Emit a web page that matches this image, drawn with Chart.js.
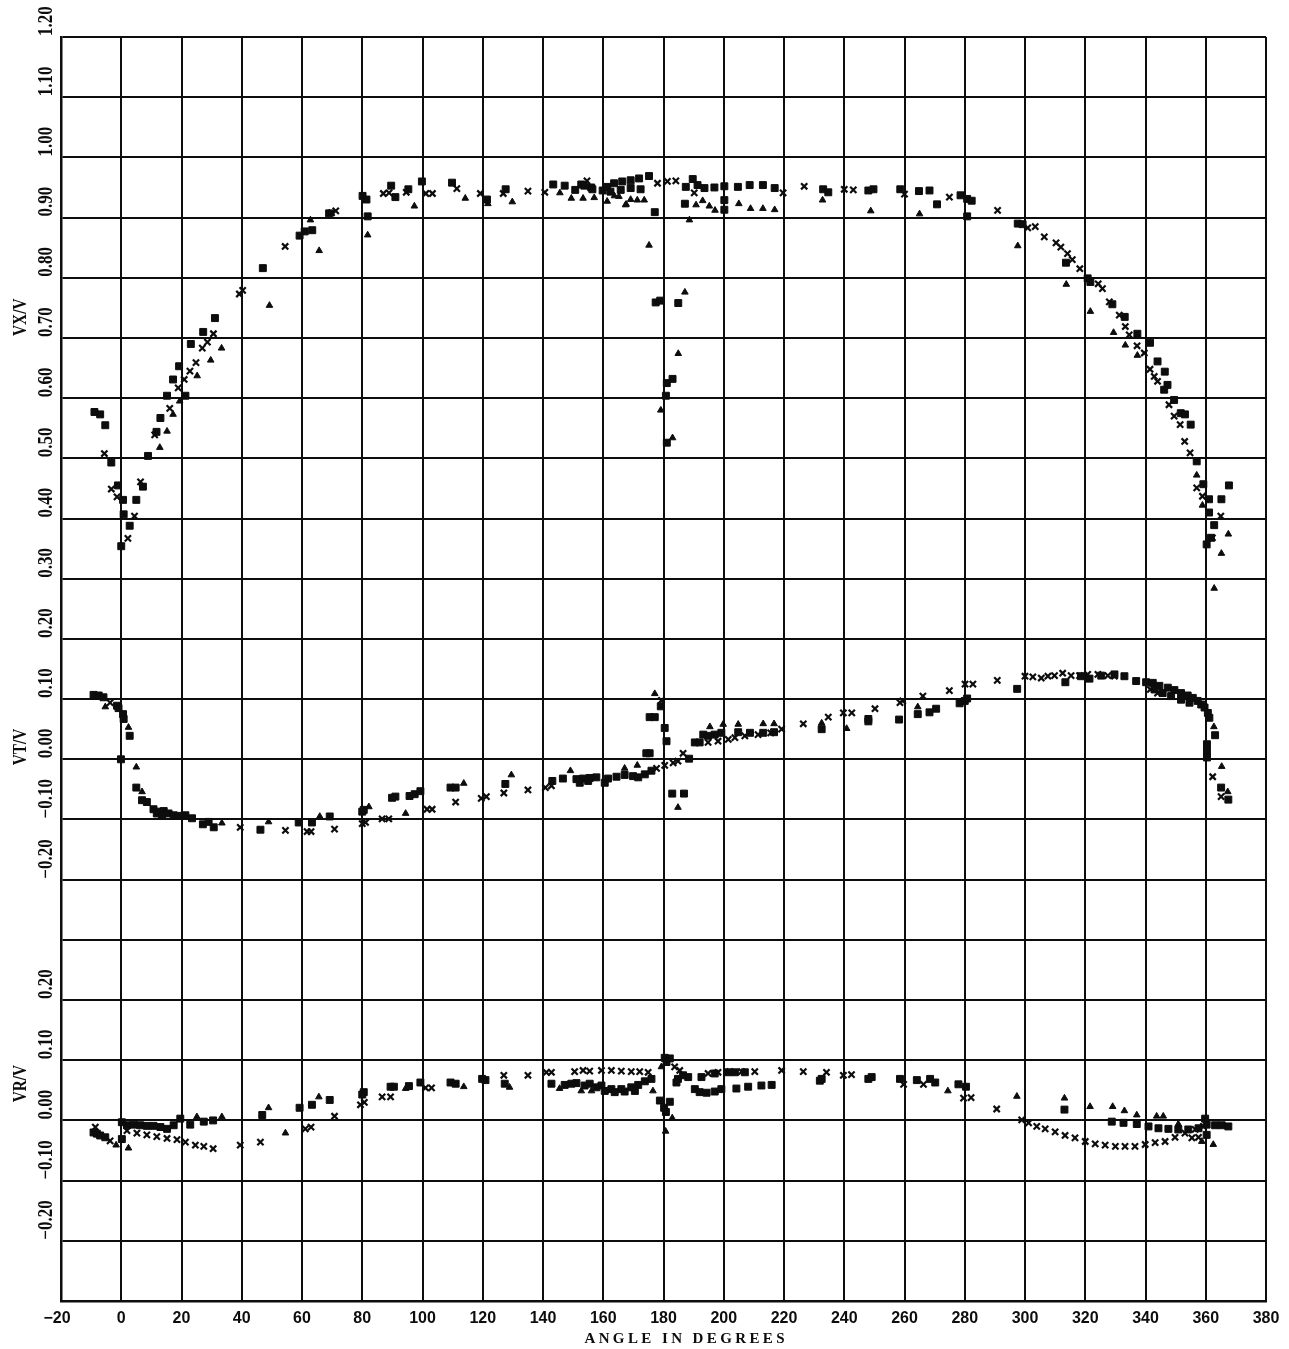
<!DOCTYPE html>
<html><head><meta charset="utf-8">
<script src="https://cdn.jsdelivr.net/npm/chart.js@4"></script>
<style>html,body{margin:0;padding:0;background:#fff;}canvas{display:block}</style>
</head><body>
<canvas id="c" width="1289" height="1349" style="width:1289px;height:1349px"></canvas>
<script>
// ---------- DATA ----------
const xTickValues = [-20,0,20,40,60,80,100,120,140,160,180,200,220,240,260,280,300,320,340,360,380];
const xTickLabels = ['\u221220','0','20','40','60','80','100','120','140','160','180','200','220','240','260','280','300','320','340','360','380'];
const xTitle = 'ANGLE IN DEGREES';

const vxTickValues = [1.2,1.1,1.0,0.9,0.8,0.7,0.6,0.5,0.4,0.3,0.2,0.1];
const vxTickLabels = ['1.20','1.10','1.00','0.90','0.80','0.70','0.60','0.50','0.40','0.30','0.20','0.10'];
const vtTickValues = [0.0,-0.1,-0.2];
const vtTickLabels = ['0.00','\u22120.10','\u22120.20'];
const vrTickValues = [0.2,0.1,0.0,-0.1,-0.2];
const vrTickLabels = ['0.20','0.10','0.00','\u22120.10','\u22120.20'];
const panelTitles = ['VX/V','VT/V','VR/V'];
const vrOffset = -0.6;   // VR panel drawn lower on the shared sheet

const vxSquares = [[-8.9,0.577],[-7,0.573],[-5.3,0.555],[-3.3,0.493],[-1.1,0.455],[0.6,0.431],[0.8,0.407],[2.8,0.388],[0,0.354],[5,0.431],[7.2,0.453],[8.9,0.504],[11.7,0.544],[13,0.567],[15.2,0.604],[21.3,0.604],[17.2,0.631],[19.2,0.653],[23.1,0.690],[27.2,0.710],[31.1,0.733],[47,0.816],[59.2,0.870],[60.9,0.877],[63.4,0.879],[69,0.907],[80.1,0.936],[81.4,0.930],[81.8,0.902],[89.6,0.953],[91,0.934],[95.3,0.947],[99.8,0.960],[109.8,0.958],[121.4,0.930],[127.6,0.947],[143.4,0.955],[147.2,0.953],[150.7,0.946],[152.7,0.955],[156,0.950],[153.7,0.953],[156.4,0.947],[159.8,0.945],[161.3,0.951],[163.6,0.957],[166.3,0.960],[169.1,0.962],[171.9,0.965],[175.2,0.969],[162.4,0.943],[165.8,0.946],[169.1,0.949],[172.4,0.947],[177.1,0.909],[177.4,0.759],[178.9,0.762],[184.9,0.758],[183,0.632],[181.1,0.625],[180.8,0.604],[181.1,0.526],[187.4,0.951],[189.7,0.964],[191.3,0.954],[187.1,0.923],[193.6,0.949],[196.9,0.950],[200.2,0.952],[204.7,0.951],[208.6,0.954],[213,0.954],[216.9,0.949],[200.2,0.929],[200.2,0.913],[233,0.947],[234.7,0.942],[248,0.945],[249.7,0.947],[258.6,0.947],[264.8,0.944],[268.3,0.945],[270.8,0.922],[278.6,0.937],[280.8,0.931],[282.3,0.928],[280.8,0.902],[297.6,0.890],[299.2,0.889],[313.6,0.825],[320.8,0.799],[321.7,0.793],[329,0.756],[333.1,0.735],[337.3,0.707],[341.5,0.692],[344,0.661],[346.4,0.644],[347.3,0.622],[346.2,0.614],[349.5,0.597],[351.7,0.575],[353.1,0.573],[355,0.556],[357,0.495],[359.2,0.457],[367.7,0.455],[361.1,0.432],[365.2,0.432],[361.1,0.410],[362.8,0.389],[361.7,0.368],[360.3,0.357]];
const vxCrosses = [[-5.6,0.508],[-3.3,0.449],[-1.4,0.436],[2.2,0.367],[4.4,0.404],[6.4,0.461],[11.1,0.539],[16.1,0.583],[18.9,0.617],[20.9,0.631],[22.8,0.645],[24.8,0.659],[26.9,0.683],[28.6,0.693],[30.6,0.707],[39.2,0.773],[40.3,0.779],[54.4,0.852],[69.8,0.908],[71.2,0.911],[87,0.940],[88.9,0.941],[94.6,0.942],[101.1,0.940],[103.3,0.940],[111.4,0.948],[119.2,0.940],[126.8,0.940],[135,0.944],[140.6,0.942],[154.6,0.961],[178,0.957],[181.3,0.960],[184.1,0.961],[190.2,0.941],[219.7,0.941],[226.7,0.952],[240,0.947],[243,0.946],[260,0.939],[274.9,0.934],[290.9,0.912],[300.9,0.883],[303.4,0.885],[306.4,0.868],[310.3,0.858],[311.9,0.851],[314.1,0.840],[315.7,0.830],[318.2,0.815],[324.3,0.790],[325.7,0.782],[328,0.760],[331.3,0.738],[333.3,0.719],[334.6,0.705],[337.2,0.687],[339.6,0.675],[341.5,0.648],[342.9,0.636],[344,0.628],[347.8,0.589],[349.5,0.570],[351.5,0.556],[353,0.528],[354.8,0.509],[357,0.451],[358.9,0.437],[365,0.404],[362.2,0.368]];
const vxTriangles = [[12.8,0.518],[15.2,0.545],[17.2,0.573],[19.4,0.595],[25.2,0.637],[29.7,0.663],[33.3,0.683],[49.2,0.754],[62.8,0.896],[65.7,0.845],[81.8,0.871],[97.3,0.919],[114.2,0.932],[121.7,0.923],[129.8,0.926],[145.6,0.941],[149.4,0.932],[153.3,0.932],[157,0.933],[163.7,0.936],[167.6,0.922],[161.3,0.927],[165.2,0.935],[169.1,0.930],[171.3,0.929],[173.6,0.929],[167.4,0.921],[175.2,0.854],[187.1,0.776],[184.9,0.674],[179.1,0.580],[183,0.534],[188.6,0.896],[190.8,0.921],[193,0.928],[195.2,0.919],[197.1,0.912],[205,0.923],[208.9,0.915],[213,0.915],[216.9,0.913],[232.8,0.929],[248.8,0.911],[265,0.906],[297.6,0.853],[313.7,0.789],[321.7,0.744],[329.4,0.709],[333.3,0.688],[337.3,0.671],[357,0.472],[358.9,0.422],[367.5,0.374],[365.2,0.342],[362.8,0.284]];

const vtSquares = [[-9.2,0.107],[-7.5,0.106],[-5.9,0.103],[-1.4,0.089],[-0.9,0.085],[0.6,0.075],[0.8,0.067],[2.8,0.039],[-0.1,0.000],[5,-0.047],[6.9,-0.068],[8.5,-0.071],[10.7,-0.083],[12.4,-0.087],[14.1,-0.086],[15.7,-0.090],[17.4,-0.093],[19,-0.094],[21.3,-0.093],[23.5,-0.098],[11.8,-0.090],[13.5,-0.093],[27.1,-0.108],[29,-0.104],[30.7,-0.113],[46.2,-0.117],[58.9,-0.105],[63.3,-0.105],[69.2,-0.095],[80,-0.087],[80.5,-0.084],[89.9,-0.064],[91,-0.062],[95.7,-0.061],[97.4,-0.058],[99.3,-0.053],[109.3,-0.047],[111,-0.047],[127.5,-0.041],[143.1,-0.036],[146.6,-0.032],[151.1,-0.033],[153.3,-0.032],[155.5,-0.031],[157.7,-0.030],[152.2,-0.039],[155,-0.036],[160.5,-0.039],[161.6,-0.032],[164.4,-0.029],[167.1,-0.026],[169.9,-0.028],[171.6,-0.030],[173.8,-0.025],[176,-0.019],[179.1,0.088],[175.4,0.070],[177.1,0.070],[180.4,0.052],[181,0.030],[174.3,0.010],[175.4,0.010],[182.9,-0.057],[186.8,-0.057],[188.5,0.001],[190.4,0.028],[192,0.028],[193.2,0.041],[194.8,0.039],[197,0.041],[199.2,0.044],[204.8,0.045],[208.7,0.044],[213.1,0.044],[216.7,0.045],[232.5,0.050],[248,0.063],[248,0.067],[258.2,0.066],[264.4,0.075],[268.3,0.078],[270.5,0.084],[278.3,0.093],[280,0.097],[280.8,0.101],[297.4,0.117],[313.4,0.128],[318.6,0.138],[321.4,0.134],[325.3,0.139],[329.7,0.141],[333,0.138],[336.9,0.130],[340.2,0.128],[342.4,0.127],[344.6,0.122],[347.4,0.119],[349.6,0.115],[351.8,0.110],[354,0.106],[355.7,0.102],[357.3,0.097],[358.5,0.091],[359.6,0.086],[360.7,0.077],[361.2,0.069],[343,0.116],[345.7,0.110],[348.5,0.105],[351.8,0.099],[354.6,0.094],[363.1,0.040],[360.4,0.025],[360.4,0.014],[360.4,0.003],[365.1,-0.047],[367.5,-0.067]];
const vtCrosses = [[-3.7,0.094],[39.5,-0.113],[54.5,-0.118],[61.7,-0.120],[63,-0.120],[70.8,-0.116],[80,-0.107],[81.1,-0.105],[86.6,-0.099],[88.8,-0.099],[101.5,-0.083],[103.2,-0.083],[111,-0.071],[119.5,-0.065],[121.2,-0.062],[127,-0.056],[135,-0.051],[140.8,-0.047],[142.8,-0.044],[177.7,-0.015],[180.4,-0.010],[183.2,-0.006],[184.8,-0.003],[179.3,0.098],[186.5,0.010],[194.8,0.028],[198.1,0.030],[201.5,0.033],[203.7,0.036],[207,0.039],[211.4,0.041],[215.6,0.044],[219.2,0.050],[226.4,0.059],[234.7,0.070],[239.7,0.077],[242.5,0.077],[250.2,0.084],[258.5,0.094],[259.4,0.097],[266.1,0.105],[274.9,0.114],[280.1,0.125],[282.7,0.125],[290.8,0.131],[300,0.138],[302.6,0.137],[305.4,0.135],[307.6,0.138],[309.8,0.139],[312.5,0.143],[315.3,0.139],[318.1,0.139],[320.8,0.141],[324.2,0.141],[327.5,0.139],[329.7,0.138],[341.6,0.116],[344,0.110],[362.3,-0.029],[365.1,-0.062]];
const vtTriangles = [[-5.3,0.087],[2.4,0.053],[5,-0.013],[6.9,-0.054],[33.4,-0.106],[48.9,-0.104],[65.9,-0.095],[82.2,-0.079],[94.4,-0.090],[113.7,-0.040],[129.5,-0.026],[149.1,-0.019],[167.1,-0.015],[171.3,-0.010],[177.1,0.109],[184.8,-0.080],[195.4,0.054],[199.8,0.058],[204.8,0.058],[213.1,0.059],[216.7,0.059],[232.5,0.060],[240.8,0.051],[264.4,0.087],[362.7,0.054],[365.3,-0.012],[367.3,-0.054]];

const vrSquares = [[-9.2,-0.020],[-8.1,-0.022],[-7,-0.025],[-5.3,-0.028],[0.2,-0.031],[0.2,-0.003],[1.9,-0.008],[4.1,-0.007],[6.3,-0.008],[8.5,-0.009],[10.7,-0.009],[13,-0.011],[15.2,-0.014],[17.4,-0.008],[19.6,0.003],[22.9,-0.007],[27.4,-0.002],[30.5,0.000],[46.8,0.009],[59.2,0.021],[63.3,0.026],[69.2,0.034],[80.5,0.047],[80,0.043],[89.4,0.056],[90.5,0.056],[95.5,0.057],[99.3,0.063],[109.3,0.063],[111,0.061],[119.8,0.069],[120.9,0.067],[127.3,0.061],[142.8,0.061],[147.2,0.059],[149.4,0.061],[151.1,0.062],[153.8,0.058],[155.5,0.061],[157.7,0.055],[159.4,0.058],[162.7,0.052],[166,0.052],[169.3,0.055],[171.6,0.059],[173.8,0.065],[176,0.069],[160.5,0.049],[163.8,0.047],[167.1,0.048],[170.5,0.049],[180.4,0.104],[181,0.097],[182.1,0.103],[178.8,0.033],[182.1,0.031],[180.2,0.021],[180.8,0.014],[184.8,0.069],[186.5,0.075],[188.2,0.072],[184.3,0.063],[190.4,0.052],[192,0.047],[194.3,0.046],[197,0.048],[199.2,0.052],[192.6,0.072],[197,0.078],[201.5,0.080],[203.7,0.080],[207,0.080],[204.2,0.053],[208.1,0.056],[212.5,0.058],[215.9,0.059],[231.9,0.066],[232.5,0.069],[248,0.069],[249.1,0.072],[258.5,0.069],[264.1,0.067],[268.5,0.069],[270.2,0.063],[277.9,0.060],[280.4,0.056],[313.1,0.018],[328.8,-0.002],[332.7,-0.004],[337.1,-0.006],[341,-0.010],[344.3,-0.013],[347.6,-0.014],[350.9,-0.015],[354.2,-0.015],[357.6,-0.013],[360.3,-0.007],[363.1,-0.008],[365.3,-0.008],[367.5,-0.010],[359.8,0.003],[360.3,-0.024]];
const vrCrosses = [[-8.6,-0.011],[-3.7,-0.034],[1.9,-0.017],[5.2,-0.021],[8.5,-0.024],[11.8,-0.027],[15.2,-0.030],[18.5,-0.032],[21.3,-0.036],[24.6,-0.041],[27.4,-0.043],[30.5,-0.047],[39.5,-0.041],[46.2,-0.036],[61.1,-0.014],[63,-0.011],[70.8,0.007],[79.4,0.026],[80.7,0.030],[86.6,0.039],[89.4,0.039],[101,0.054],[103,0.054],[127,0.075],[135,0.075],[141.1,0.080],[142.8,0.080],[150.5,0.081],[153.3,0.083],[155.5,0.082],[159.4,0.083],[162.7,0.083],[166,0.082],[169.3,0.081],[172.1,0.081],[174.9,0.080],[183.7,0.089],[185.4,0.083],[194.8,0.078],[198.1,0.080],[202,0.081],[205.9,0.081],[210.3,0.081],[219.2,0.083],[226.4,0.081],[234.1,0.080],[239.7,0.075],[242.4,0.076],[259.7,0.060],[266.3,0.060],[279.6,0.037],[282.1,0.038],[290.6,0.019],[298.9,0.001],[301.2,-0.004],[303.9,-0.010],[306.7,-0.014],[310,-0.019],[313.3,-0.025],[316.6,-0.029],[320,-0.035],[323.3,-0.039],[326.6,-0.041],[330,-0.043],[333.2,-0.043],[336.5,-0.043],[339.9,-0.040],[343.2,-0.037],[346.5,-0.035],[349.8,-0.028],[353.1,-0.021],[356.5,-0.015],[359.2,-0.010],[355.4,-0.029],[357.6,-0.028]];
const vrTriangles = [[-1.7,-0.041],[2.4,-0.046],[25.1,0.006],[33.4,0.006],[48.9,0.021],[54.5,-0.021],[65.6,0.039],[94.4,0.053],[113.7,0.056],[128.9,0.055],[145.5,0.053],[152.7,0.049],[156.1,0.049],[176.5,0.049],[179.3,0.089],[182.9,0.004],[180.7,-0.018],[274.4,0.049],[297.3,0.040],[313.1,0.037],[321.6,0.023],[329.1,0.023],[333,0.016],[337.1,0.009],[343.7,0.007],[345.9,0.007],[350.9,-0.006],[358.7,-0.035],[362.5,-0.040]];

// ---------- BUILD ----------
const INK = '#0d0d0d';
const sheetGrid = [];
for (let i = -9; i <= 12; i++) sheetGrid.push(i / 10);

function pts(arr, off) { return arr.map(p => ({x: p[0], y: p[1] + (off || 0)})); }
function sq(arr, off) { return {data: pts(arr, off), pointStyle: 'rect', pointRadius: 4.9, borderWidth: 1, backgroundColor: INK, borderColor: INK}; }
function cr(arr, off) { return {data: pts(arr, off), pointStyle: 'crossRot', pointRadius: 4.4, borderWidth: 2.2, backgroundColor: INK, borderColor: INK}; }
function tr(arr, off) { return {data: pts(arr, off), pointStyle: 'triangle', pointRadius: 3.8, borderWidth: 1, backgroundColor: INK, borderColor: INK}; }

const datasets = [
  sq(vxSquares), cr(vxCrosses), tr(vxTriangles),
  sq(vtSquares), cr(vtCrosses), tr(vtTriangles),
  sq(vrSquares, vrOffset), cr(vrCrosses, vrOffset), tr(vrTriangles, vrOffset)
].map(d => Object.assign(d, {showLine: false, pointHoverRadius: d.pointRadius}));

const textPlugin = {
  id: 'sheetText',
  afterDraw(chart) {
    const ctx = chart.ctx, xs = chart.scales.x, ys = chart.scales.y;
    ctx.save();
    ctx.fillStyle = INK;
    // x tick labels
    ctx.font = 'bold 16px "Liberation Sans", Arial, sans-serif';
    ctx.textAlign = 'center';
    ctx.textBaseline = 'middle';
    xTickValues.forEach((v, i) => {
      const t = xTickLabels[i];
      const dx = t.startsWith('\u2212') ? -4 : 0;
      ctx.fillText(t, xs.getPixelForValue(v) + dx, 1319);
    });
    // x title, letter spaced
    ctx.font = 'bold 15px "Liberation Serif", serif';
    const spacing = 3.4;
    let total = 0;
    for (const ch of xTitle) total += ctx.measureText(ch).width + spacing;
    total -= spacing;
    let cx = 684.5 - total / 2;
    ctx.textAlign = 'left';
    for (const ch of xTitle) { ctx.fillText(ch, cx, 1339); cx += ctx.measureText(ch).width + spacing; }

    // rotated y labels
    function vlabel(text, py, bx, size) {
      ctx.save();
      ctx.translate(bx, py);
      ctx.rotate(-Math.PI / 2);
      ctx.scale(0.85, 1);
      ctx.font = 'bold ' + size + 'px "Liberation Serif", serif';
      ctx.textAlign = 'left';
      ctx.textBaseline = 'alphabetic';
      ctx.fillText(text, 0, 0);
      ctx.restore();
    }
    vxTickValues.forEach((v, i) => vlabel(vxTickLabels[i], ys.getPixelForValue(v) - 1, 52, 20));
    vtTickValues.forEach((v, i) => vlabel(vtTickLabels[i], ys.getPixelForValue(v) - 1, 52, 20));
    vrTickValues.forEach((v, i) => vlabel(vrTickLabels[i], ys.getPixelForValue(v + vrOffset) - 1, 52, 20));
    vlabel(panelTitles[0], ys.getPixelForValue(0.70) - 2, 26, 18);
    vlabel(panelTitles[1], ys.getPixelForValue(-0.01), 26, 18);
    vlabel(panelTitles[2], ys.getPixelForValue(0.03 + vrOffset), 26, 18);
    ctx.restore();
  }
};

new Chart(document.getElementById('c'), {
  type: 'scatter',
  data: {datasets},
  options: {
    responsive: false,
    animation: false,
    devicePixelRatio: 1,
    layout: {padding: {left: 61, right: 23, top: 37, bottom: 48}},
    plugins: {legend: {display: false}, tooltip: {enabled: false}},
    scales: {
      x: {
        type: 'linear', min: -20, max: 380,
        ticks: {display: false},
        grid: {color: INK, lineWidth: 2, drawTicks: false},
        border: {display: true, color: INK, width: 2.5},
        afterBuildTicks: s => { s.ticks = xTickValues.map(v => ({value: v})); }
      },
      y: {
        type: 'linear', min: -0.9, max: 1.2,
        ticks: {display: false},
        grid: {color: INK, lineWidth: 2, drawTicks: false},
        border: {display: true, color: INK, width: 2.5},
        afterBuildTicks: s => { s.ticks = sheetGrid.map(v => ({value: v})); }
      }
    }
  },
  plugins: [textPlugin]
});
</script>
</body></html>
